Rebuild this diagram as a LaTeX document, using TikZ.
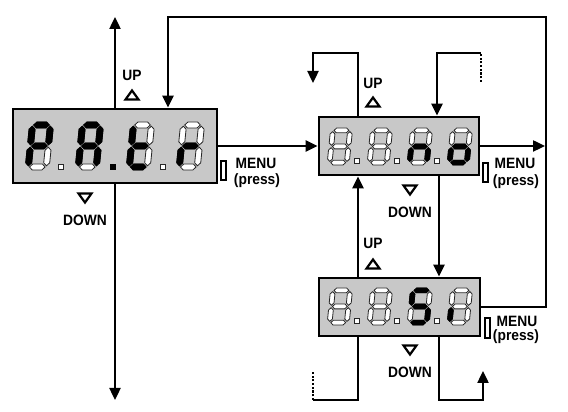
\documentclass[tikz,border=0pt]{standalone}
\usepackage{fontspec}
\setmainfont{Liberation Sans}
\newfontfamily\lblfont[FakeStretch=0.92]{Liberation Sans}
\usetikzlibrary{arrows.meta}
\definecolor{dispgray}{RGB}{200,200,200}
\newcommand\hseg[4]{\path[#1] (#3,#2) -- (#3+\hT,#2+\hT) -- (#4-\hT,#2+\hT) -- (#4,#2) -- (#4-\hT,#2-\hT) -- (#3+\hT,#2-\hT) -- cycle;}
\newcommand\vseg[4]{\path[#1] (#2,#3) -- (#2+\hT,#3+\hT) -- (#2+\hT,#4-\hT) -- (#2,#4) -- (#2-\hT,#4-\hT) -- (#2-\hT,#3+\hT) -- cycle;}
\def\sega#1{\hseg{#1}{\H-\hT}{\hT+\G}{\W-\hT-\G}}
\def\segb#1{\vseg{#1}{\W-\hT}{\H/2+\G}{\H-\hT-\G}}
\def\segc#1{\vseg{#1}{\W-\hT}{\hT+\G}{\H/2-\G}}
\def\segd#1{\hseg{#1}{\hT}{\hT+\G}{\W-\hT-\G}}
\def\sege#1{\vseg{#1}{\hT}{\hT+\G}{\H/2-\G}}
\def\segf#1{\vseg{#1}{\hT}{\H/2+\G}{\H-\hT-\G}}
\def\segg#1{\hseg{#1}{\H/2}{\hT+\G}{\W-\hT-\G}}
\def\segz#1{}
\newcommand\sevdig[6]{%
  \begin{scope}[shift={(#1,#2)}, xslant=0.1]
    \pgfmathsetmacro\W{#3}\pgfmathsetmacro\H{#4}\pgfmathsetmacro\hT{#5/2}\def\G{1.2}
    \foreach \s in {a,b,c,d,e,f,g}{\csname seg\s\endcsname{segoff}}
    \foreach \s in {#6}{\csname seg\s\endcsname{segon}}
  \end{scope}}
\newcommand\dpt[4]{\path[#4] (#1-#3/2,#2-#3/2) rectangle (#1+#3/2,#2+#3/2);}
\newcommand\triup[2]{\draw[trimark] (#1-6.5,#2-4.5) -- (#1+6.5,#2-4.5) -- (#1,#2+4.5) -- cycle;}
\newcommand\tridown[2]{\draw[trimark] (#1-6.5,#2+4.5) -- (#1+6.5,#2+4.5) -- (#1,#2-4.5) -- cycle;}
\begin{document}
\begin{tikzpicture}[x=1pt,y=1pt,
  conn/.style={line width=2.4pt},
  arr/.style={conn,-{Triangle[length=12pt,width=11pt]}},
  dashline/.style={line width=2.6pt, dash pattern=on 2.2pt off 1.5pt},
  disp/.style={draw, line width=2.8pt, fill=dispgray, inner sep=0pt},
  segoff/.style={draw=black!85, line width=0.8pt, fill=white},
  segon/.style={draw=black, line width=0.8pt, fill=black},
  lbl/.style={font=\lblfont\fontsize{15}{15}\selectfont\bfseries, inner sep=0pt},
  trimark/.style={draw, line width=2.2pt, line join=miter},
  btn/.style={draw, line width=1.8pt, fill=white}]
\useasboundingbox (0,0) rectangle (568,412);
% coordinates
\coordinate (Ltop) at (115,395);
\coordinate (Lbot) at (115,12);
\coordinate (tr) at (546,395);
\coordinate (tl) at (168,395);
\coordinate (xa) at (358,0);
\coordinate (xb) at (439,0);
\coordinate (xc) at (437,0);
\coordinate (mt1) at (358,359);
\coordinate (mt2) at (313,359);
\coordinate (mt3) at (313,329);
\coordinate (mr1) at (481,330);
\coordinate (mr2) at (481,359);
\coordinate (mr3) at (437,359);
\coordinate (bl1) at (358,12);
\coordinate (bl2) at (313,12);
\coordinate (bl3) at (313,40);
\coordinate (br1) at (439,12);
\coordinate (br2) at (483,12);
\coordinate (br3) at (483,41);
% boxes
\node[disp, minimum width=204pt, minimum height=74pt] (L) at (115,266) {};
\node[disp, minimum width=160pt, minimum height=58pt] (M) at (399,266) {};
\node[disp, minimum width=161pt, minimum height=58pt] (B) at (399.5,105) {};
% connectors
\draw[arr] (L.north) -- (Ltop);
\draw[arr] (L.south) -- (Lbot);
\draw[arr] (B.east) -| (tr) -- (tl) -- (tl |- L.north);
\draw[arr] (L.east) -- (M.west);
\draw[arr, shorten >=1pt] (M.east) -- (M.east -| tr);
\draw[arr] (M.north -| xa) -- (mt1) -- (mt2) -- (mt3);
\draw[dashline] (mr1) -- (mr2);
\draw[arr] (mr2) -- (mr3) -- (M.north -| xc);
\draw[arr] (M.south -| xb) -- (B.north -| xb);
\draw[arr] (B.north -| xa) -- (M.south -| xa);
\draw[conn] (B.south -| xa) -- (bl1) -- (bl2);
\draw[dashline] (bl2) -- (bl3);
\draw[arr] (B.south -| xb) -- (br1) -- (br2) -- (br3);
% left display: P.A.t.r
\sevdig{25}{242}{24}{48}{6}{a,b,f,g,e}
\sevdig{75}{242}{24}{48}{6}{a,b,c,e,f,g}
\sevdig{126}{242}{24}{48}{6}{d,e,f,g}
\sevdig{176}{242}{24}{48}{6}{e,g}
\dpt{61}{245}{5}{segoff}
\dpt{113}{245}{5}{segon}
\dpt{163}{245}{5}{segoff}
% middle display: no
\sevdig{327}{247}{22}{37}{4.8}{z}
\sevdig{367}{247}{22}{37}{4.8}{z}
\sevdig{407}{247}{22}{37}{4.8}{c,e,g}
\sevdig{447}{247}{22}{37}{4.8}{c,d,e,g}
\dpt{357}{251}{4.5}{segoff}
\dpt{397}{251}{4.5}{segoff}
\dpt{437}{251}{4.5}{segoff}
% bottom display: Si
\sevdig{327}{87}{22}{37}{4.8}{z}
\sevdig{367}{87}{22}{37}{4.8}{z}
\sevdig{407}{87}{22}{37}{4.8}{a,f,g,c,d}
\sevdig{447}{87}{22}{37}{4.8}{e}
\dpt{357}{91}{4.5}{segoff}
\dpt{397}{91}{4.5}{segoff}
\dpt{437}{91}{4.5}{segoff}
% UP / DOWN labels
\node[lbl] (upL) at (132,337) {UP};
\triup{132}{317}
\tridown{85}{214}
\node[lbl] (dnL) at (85,192) {DOWN};
\node[lbl] (upM) at (373,329) {UP};
\triup{373}{310}
\tridown{410}{222}
\node[lbl] (dnM) at (410,200) {DOWN};
\node[lbl] (upB) at (373,169) {UP};
\triup{373}{148}
\tridown{410}{62}
\node[lbl] (dnB) at (410,40) {DOWN};
% MENU buttons
\path[btn] (221,232) rectangle (226,251);
\node[lbl] (mL) at (256,249) {MENU};
\node[lbl] (pL) at (257,231) {(press)};
\path[btn] (483,230) rectangle (488,249);
\node[lbl] (mM) at (515,249) {MENU};
\node[lbl] (pM) at (516,230) {(press)};
\path[btn] (485,74) rectangle (490,94);
\node[lbl] (mB) at (517,91) {MENU};
\node[lbl] (pB) at (516,75) {(press)};
\end{tikzpicture}
\end{document}
